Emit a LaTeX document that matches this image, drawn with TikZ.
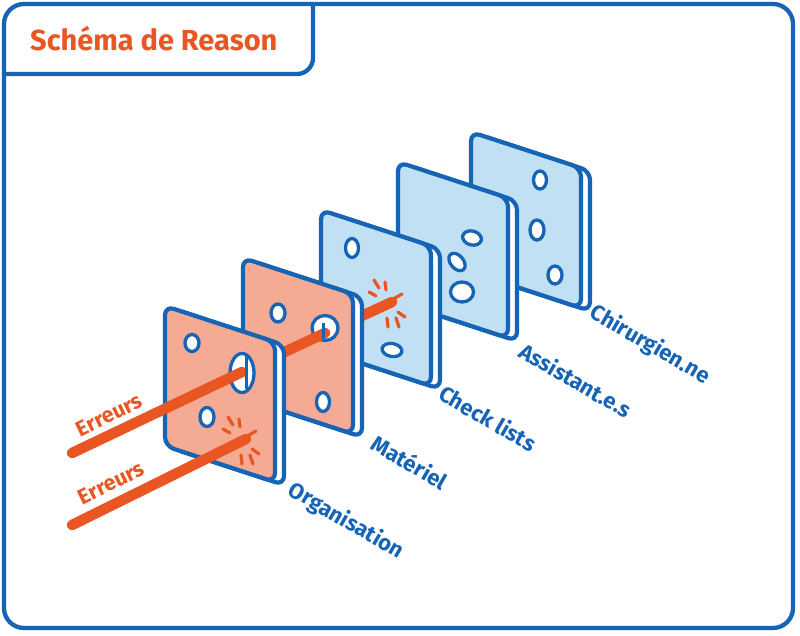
\documentclass[tikz,border=0pt]{standalone}
\usepackage{fontspec}
\setmainfont{Fira Sans}
\newcommand\semib{\bfseries}
\usetikzlibrary{calc}
\definecolor{rblue}{RGB}{22,100,182}
\definecolor{rorange}{RGB}{233,85,35}
\definecolor{pfill}{RGB}{245,170,148}
\definecolor{bfill}{RGB}{194,224,244}
\tikzset{
  frameline/.style={draw=rblue, line width=4.3},
  platerim/.style={fill=white, draw=rblue, line width=4.2, rounded corners=9},
  plateface/.style={fill=#1, draw=rblue, line width=4.2, rounded corners=9},
  hole/.style={fill=white, draw=rblue, line width=3.3},
  beam/.style={draw=rorange, line width=10.5, line cap=round},
  sparkdash/.style={draw=rorange, line width=3.2, line cap=round},
  bluelabel/.style={text=rblue, font=\semib\fontsize{22}{26}\selectfont, rotate=-30, inner sep=0},
  errlabel/.style={text=rorange, font=\semib\fontsize{21.5}{26}\selectfont, rotate=26, inner sep=0},
}
\newcommand\drawplate[3]{%
  \path[platerim] ($(#1,#2)+(9,3)$) -- ++(110,36) -- ++(0,140) -- ++(-110,-36) -- cycle;
  \path[plateface=#3] (#1,#2) -- ++(110,36) -- ++(0,140) -- ++(-110,-36) -- cycle;}
\newcommand\drawhole[5]{%
  \path[hole] (#1,#2) ellipse [x radius=#3, y radius=#4, rotate=#5];}
\newcommand\drawspark[1]{%
  \foreach \ax/\ay/\bx/\by in {-18/-22/-13/-14, -7/-20/-6/-12, -23/-10/-16/-6, 3/-4/10/-8, 6/10/13/15, 4/16/7/25, -5/16/-4/25}
    \draw[sparkdash] ($(#1)+(\ax,\ay)$) -- ($(#1)+(\bx,\by)$);}
\begin{document}
\begin{tikzpicture}[x=1pt,y=-1pt]
\useasboundingbox (0,0) rectangle (800,635);
\fill[white] (0,0) rectangle (800,635);
% frame
\draw[frameline, rounded corners=20] (4,4) rectangle (793,628);
\draw[frameline, rounded corners=16] (313,4) -- (313,74) -- (4,74);
\node[anchor=base west, text=rorange, font=\semib\fontsize{29}{34}\selectfont, inner sep=0] (title) at (30,50) {Schéma de Reason};
% coordinates of the beams
\coordinate (b1s) at (72,453);
\coordinate (h1) at (242,372);
\coordinate (h2) at (325,333);
\coordinate (b1e) at (392,302);
\coordinate (b2s) at (72,525);
\coordinate (b2e) at (246,439);
% plate 5 : Chirurgien.ne
\drawplate{471}{132}{bfill}
\drawhole{540}{180}{6.5}{9}{0}
\drawhole{537}{230}{7}{10}{0}
\drawhole{555}{275}{7}{9}{0}
% plate 4 : Assistant.e.s
\drawplate{398}{162}{bfill}
\drawhole{472}{238}{9.5}{7}{-15}
\drawhole{457}{262}{10}{6.5}{-50}
\drawhole{462}{292}{11.5}{10}{0}
% plate 3 : Check lists
\drawplate{321}{210}{bfill}
\drawhole{352}{248}{6.5}{9.5}{0}
\drawhole{392}{350}{10}{6.5}{-10}
\draw[beam] (h2) -- (b1e);
\drawspark{b1e}
% plate 2 : Materiel
\drawplate{243}{258}{pfill}
\drawhole{278}{313}{7}{9}{0}
\drawhole{325}{328}{13}{12.5}{0}
\drawhole{323}{402}{6.5}{9.5}{0}
\draw[beam] (h1) -- (h2);
\draw[rblue, line width=3] ($(h2)+(-2,-10)$) -- ($(h2)+(-2,6)$);
% plate 1 : Organisation
\drawplate{165}{306}{pfill}
\drawhole{192}{343}{7}{8.5}{0}
\drawhole{242}{373}{12}{19.5}{0}
\drawhole{207}{417}{7}{9.5}{0}
\draw[beam] (b1s) -- (h1);
\draw[rblue, line width=3] ($(h1)+(4,-16)$) -- ($(h1)+(4,17)$);
\draw[beam] (b2s) -- (b2e);
\drawspark{b2e}
% labels
\node[bluelabel] (lorg) at (346,521) {Organisation};
\node[bluelabel] (lmat) at (410,462) {Matériel};
\node[bluelabel] (lchk) at (488,418) {Check lists};
\node[bluelabel] (lass) at (576,380) {Assistant.e.s};
\node[bluelabel] (lchi) at (650,345) {Chirurgien.ne};
\node[errlabel] (err1) at (109,415) {Erreurs};
\node[errlabel] (err2) at (111,483) {Erreurs};
\end{tikzpicture}
\end{document}
